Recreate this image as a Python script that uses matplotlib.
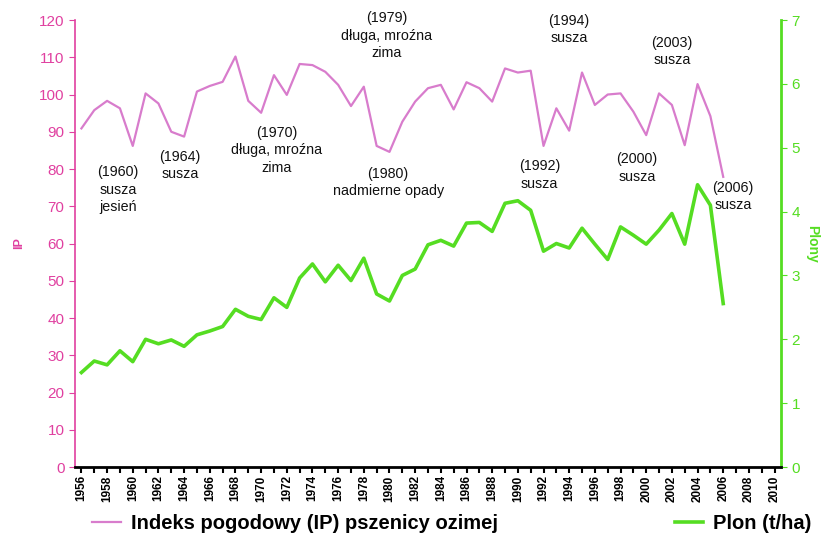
import numpy as np
import matplotlib
matplotlib.use("Agg")
import matplotlib.pyplot as plt

plt.rcParams['font.family'] = ['Liberation Sans', 'DejaVu Sans']

years = list(range(1956, 2007))

# weather index of winter wheat (left axis)
ip = [90.9, 95.8, 98.3, 96.3, 86.2, 100.3, 97.6, 90.0, 88.7, 100.8,
      102.3, 103.4, 110.2, 98.3, 95.1, 105.2, 99.9, 108.2, 107.9, 106.1,
      102.6, 96.9, 102.1, 86.2, 84.6, 92.7, 98.1, 101.7, 102.6, 96.0,
      103.3, 101.7, 98.1, 107.0, 105.9, 106.4, 86.2, 96.3, 90.3, 105.9,
      97.2, 100.0, 100.3, 95.4, 89.1, 100.3, 97.2, 86.4, 102.8, 94.2,
      77.9]

# yield t/ha (right axis)
plon = [1.48, 1.66, 1.60, 1.82, 1.65, 2.00, 1.93, 1.99, 1.89, 2.07,
        2.13, 2.20, 2.47, 2.36, 2.31, 2.65, 2.50, 2.96, 3.18, 2.90,
        3.16, 2.92, 3.27, 2.71, 2.60, 3.00, 3.10, 3.48, 3.55, 3.46,
        3.82, 3.83, 3.69, 4.13, 4.17, 4.02, 3.38, 3.50, 3.43, 3.74,
        3.49, 3.25, 3.76, 3.63, 3.49, 3.71, 3.97, 3.49, 4.42, 4.10,
        2.56]

# annotations: (text, year, ip position of top line)
notes = [
    ("(1960)\nsusza\njesień", 1958.85, 81.0),
    ("(1964)\nsusza", 1963.7, 85.2),
    ("(1970)\ndługa, mroźna\nzima", 1971.2, 91.5),
    ("(1979)\ndługa, mroźna\nzima", 1979.8, 122.3),
    ("(1980)\nnadmierne opady", 1979.9, 80.5),
    ("(1992)\nsusza", 1991.7, 82.6),
    ("(1994)\nsusza", 1994.0, 121.6),
    ("(2000)\nsusza", 1999.3, 84.5),
    ("(2003)\nsusza", 2002.0, 115.8),
    ("(2006)\nsusza", 2006.75, 76.8),
]

pink = '#e040a0'
green = '#55dd22'

fig = plt.figure(figsize=(8.26, 5.44), dpi=100)
ax = fig.add_axes([0.0908, 0.1415, 0.8547, 0.8217])
ax2 = ax.twinx()

l1, = ax.plot(years, ip, color='#d87ccc', lw=1.6, zorder=3,
              label='Indeks pogodowy (IP) pszenicy ozimej')
l2, = ax2.plot(years, plon, color=green, lw=2.6, label='Plon (t/ha)')
ax.set_zorder(ax2.get_zorder() + 1)
ax.patch.set_visible(False)

ax.set_xlim(1955.5, 2010.5)
ax.set_ylim(0, 120)
ax2.set_ylim(0, 7)
ax.set_yticks(np.arange(0, 121, 10))
ax2.set_yticks(np.arange(0, 8, 1))
ax.set_xticks(np.arange(1956, 2011, 2))
ax.set_xticks(np.arange(1956, 2011, 1), minor=True)
ax.set_xticklabels([str(y) for y in range(1956, 2011, 2)], rotation=90,
                   fontsize=8.5, fontweight='bold')

for a in (ax, ax2):
    a.spines['top'].set_visible(False)
ax.spines['right'].set_visible(False)
ax2.spines['left'].set_visible(False)
ax2.spines['bottom'].set_visible(False)
ax.spines['left'].set_color(pink)
ax.spines['left'].set_linewidth(1.2)
ax2.spines['right'].set_color(green)
ax2.spines['right'].set_linewidth(2)
ax.spines['bottom'].set_linewidth(2)

ax.tick_params(axis='y', colors=pink, labelsize=11, length=4)
ax.tick_params(axis='x', which='both', length=4, width=1.5, pad=2)
ax2.tick_params(axis='y', colors=green, labelsize=11, length=4)

ax.set_ylabel('IP', color=pink, fontsize=9, fontweight='bold', labelpad=10)
ax2.set_ylabel('Plony', color=green, fontsize=10, fontweight='bold',
               rotation=270, labelpad=14)

for txt, x, y in notes:
    ax.text(x, y, txt, ha='center', va='top', fontsize=10.3,
            linespacing=1.3, color='#111111', clip_on=False)

fig.legend([l1, l2], [l1.get_label(), l2.get_label()], loc='lower left',
           bbox_to_anchor=(0.09, -0.014), ncol=2, frameon=False,
           columnspacing=8.8, handlelength=1.4, handletextpad=0.5,
           prop={'size': 14.5, 'weight': 'bold'})

fig.savefig('out.png', dpi=100)
